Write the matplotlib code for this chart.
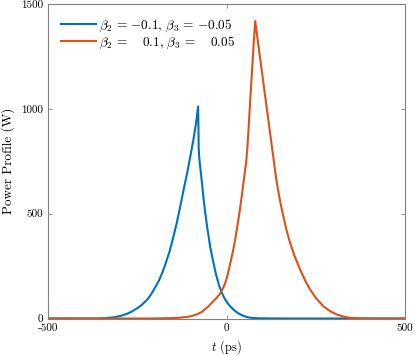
import matplotlib
matplotlib.use("Agg")
import matplotlib.pyplot as plt

plt.rcParams['font.family'] = ['cmr10', 'DejaVu Serif']
plt.rcParams['mathtext.fontset'] = 'cm'
plt.rcParams['axes.unicode_minus'] = False

# beta2 = -0.1, beta3 = -0.05
t_blue = [-500, -360, -340, -320, -300, -280, -267, -250, -240, -230, -220, -210, -200,
          -190, -180, -170, -160, -150, -140, -130, -120, -110, -100, -93, -86, -80,
          -79, -78.5, -77, -74, -70, -65, -60, -55, -50, -46, -40, -35, -30, -25, -20,
          -15, -10, -5, 0, 5, 10, 15, 20, 25, 30, 35, 40, 45, 50, 57, 65, 75, 90, 120,
          160, 500]
p_blue = [0, 0.5, 2, 5, 11, 22, 32, 50, 62, 78, 95, 120, 150,
          180, 220, 268, 320, 385, 455, 535, 620, 700, 790, 855, 930, 1011,
          900, 820, 770, 720, 660, 575, 505, 440, 385, 340, 290, 250, 212, 180, 152,
          130, 110, 93, 80, 68, 58, 49, 41, 34, 28, 23, 18, 14, 11, 7, 4, 2.5, 1.2, 0.4,
          0, 0]

# beta2 = 0.1, beta3 = 0.05
t_orange = [-500, -220, -180, -150, -130, -110, -100, -90, -80, -70, -60, -50, -40,
            -30, -20, -13, -5, 0, 5, 10, 15, 20, 25, 30, 35, 40, 45, 50, 55, 58, 62,
            66, 70, 75, 80, 85, 90, 100, 110, 120, 130, 135, 140, 145, 150, 159, 168,
            178, 190, 206, 220, 234, 250, 271, 290, 309, 328, 346, 370, 393, 420, 500]
p_orange = [0, 0, 1, 2, 4, 8, 11, 16, 22, 31, 45, 60, 78,
            95, 115, 135, 165, 190, 225, 262, 300, 340, 388, 440, 495, 555, 620, 685, 750, 810, 920,
            1040, 1150, 1290, 1419, 1355, 1290, 1163, 1035, 907, 780, 715, 655, 605, 558, 487, 420,
            360, 300, 233, 182, 138, 98, 59, 35, 19, 9, 3, 1, 0.5, 0, 0]

labels = [r'$\beta_2\, =\, {-0.1},\, \beta_3\, =\, {-0.05}$',
          r'$\beta_2\, =\, \quad 0.1,\, \beta_3\, =\, \quad 0.05$']

fig = plt.figure(figsize=(4.15, 3.56), dpi=100)
W, H = 415, 356
ax = fig.add_axes([48.3 / W, 1 - 318.5 / H, (405 - 48.3) / W, (318.5 - 4) / H])

ax.plot(t_blue, p_blue, color='#0072BD', lw=1.5, label=labels[0])
ax.plot(t_orange, p_orange, color='#D95319', lw=1.5, label=labels[1])

ax.set_xlim(-500, 500)
ax.set_ylim(0, 1500)
ax.set_xticks([-500, 0, 500])
ax.set_xticklabels(['-500', '0', '500'])
ax.set_yticks([0, 500, 1000, 1500])
ax.set_yticklabels(['0', '500', '1000', '1500'])
ax.tick_params(direction='in', top=True, right=True, length=3, width=0.6,
               color='#808080', labelsize=8, pad=3.5)
for s in ax.spines.values():
    s.set_color('#808080')
    s.set_linewidth(0.8)

ax.set_xlabel(r'$t$ (ps)', fontsize=9)
ax.xaxis.set_label_coords(0.5, -20 / 314.5)
ax.set_ylabel('Power Profile (W)', fontsize=9.5)
ax.yaxis.set_label_coords(-33 / 356.7, 0.5)

ax.legend(loc='upper left', frameon=False, fontsize=9.5, handlelength=2.6,
          handletextpad=0.25, borderaxespad=0.6, borderpad=0.4, labelspacing=0.1)

fig.savefig('out.png', dpi=100)
